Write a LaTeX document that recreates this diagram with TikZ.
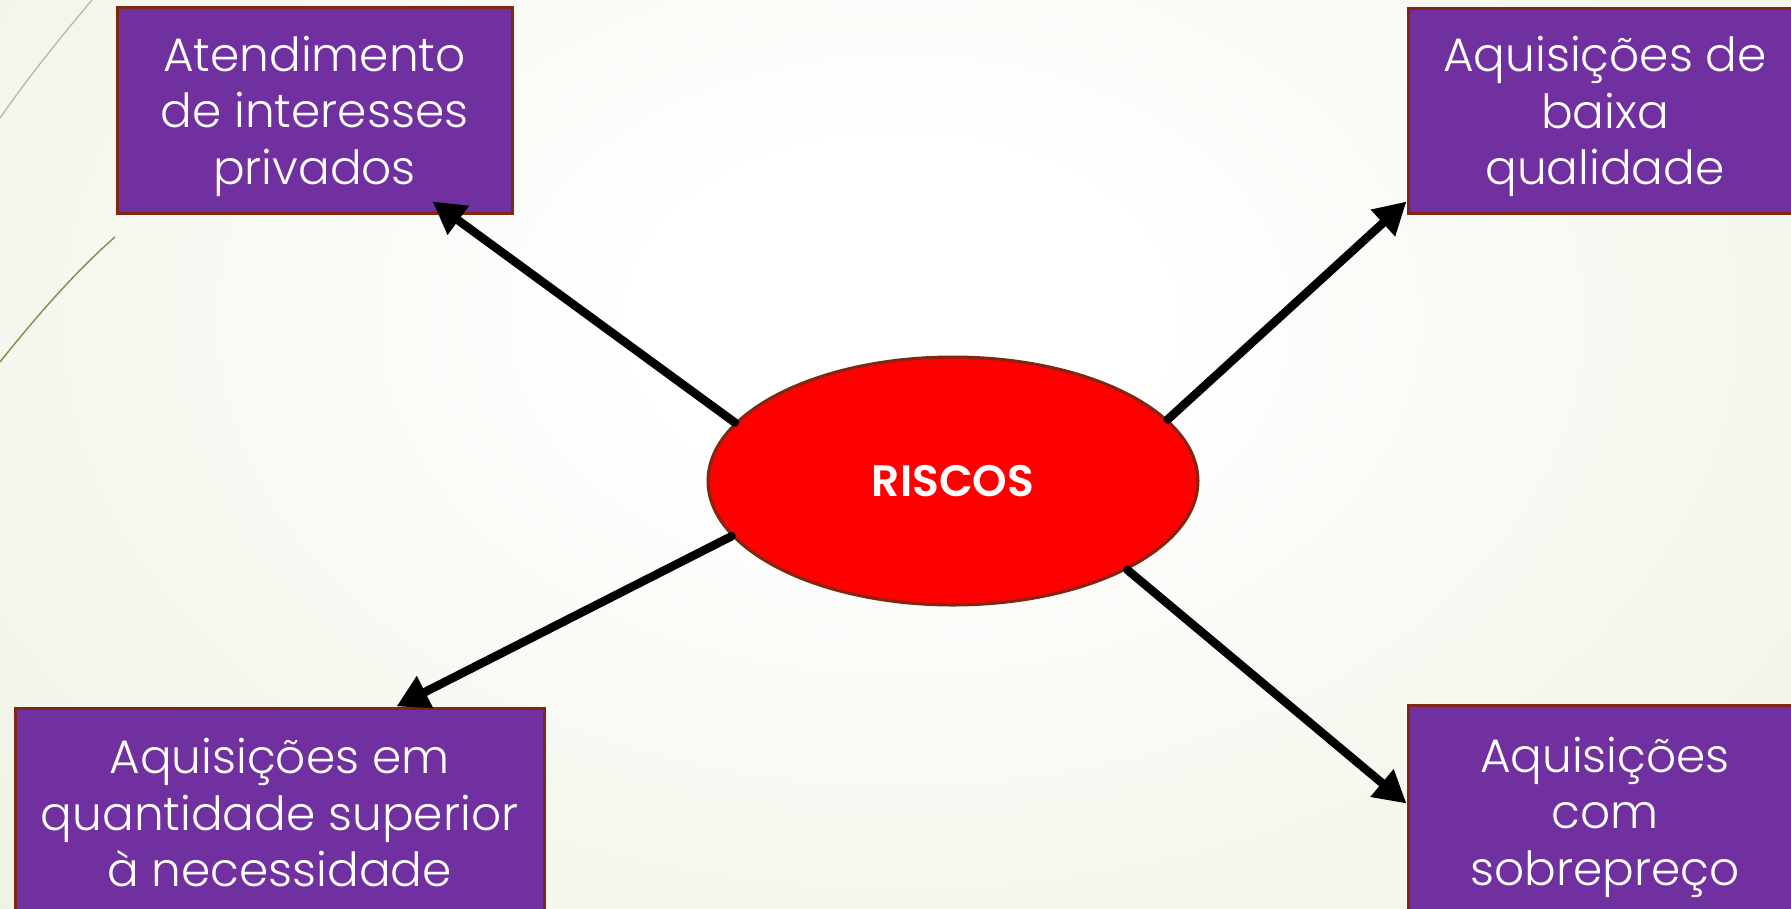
\documentclass[tikz,border=0pt]{standalone}
\usepackage{fontspec}
\setmainfont{Poppins Light}[BoldFont={Poppins SemiBold}]
\usetikzlibrary{positioning, shapes.geometric, arrows.meta}
\definecolor{boxpurple}{RGB}{112,48,160}
\definecolor{rimred}{RGB}{128,38,18}
\definecolor{bggreen}{RGB}{226,233,206}
\pgfdeclareradialshading{glow}{\pgfpoint{0bp}{0bp}}{color(0bp)=(white); color(6bp)=(white); color(50bp)=(bggreen)}

\begin{document}
\begin{tikzpicture}[
    x=1pt, y=-1pt,
    box/.style={draw=rimred, line width=3pt, fill=boxpurple, text=white, align=center,
        inner sep=0pt, text depth=0pt, font=\fontsize{47}{56.5}\selectfont},
    link/.style={line width=8.5pt, line cap=round, -{Triangle[length=32pt,width=34pt]}}
]
    \useasboundingbox (0,0) rectangle (1791,908);
    \clip (0,0) rectangle (1791,908);
    % background
    \shade[shading=glow] (-100,-360) rectangle (1900,1000);
    \draw[line width=1.2pt, black!22!bggreen] (0,118) .. controls (30,75) and (60,38) .. (92,0);
    \draw[line width=1.5pt, olive!60!black!70!white] (0,362) .. controls (35,318) and (75,272) .. (115,237);

    \node[box, minimum width=395pt, minimum height=206pt] (priv) at (314.5,110) {Atendimento\\de interesses\\privados};
    \node[box, minimum width=394pt, minimum height=205pt] (qual) at (1605,110.5) {Aquisições de\\baixa\\qualidade};
    \node[box, minimum width=529pt, minimum height=209pt] (quant) at (279.5,812.5) {Aquisições em\\quantidade superior\\à necessidade};
    \node[box, minimum width=394pt, minimum height=212pt] (preco) at (1605,811) {Aquisições\\com\\sobrepreço};

    \node[ellipse, draw=rimred, line width=3pt, fill=red, minimum width=490pt, minimum height=248pt,
        inner sep=0pt, text=white, font=\bfseries\fontsize{44}{50}\selectfont] (r) at (953,481) {RISCOS};

    \draw[link] (r.165.5) -- ([shift={(-81,-13)}]priv.south east);
    \draw[link] (r.16.8) -- ([shift={(0,-13)}]qual.south west);
    \draw[link] (r.194.5) -- ([shift={(383,0)}]quant.north west);
    \draw[link] (r.333) -- ([shift={(0,100)}]preco.north west);
\end{tikzpicture}
\end{document}
